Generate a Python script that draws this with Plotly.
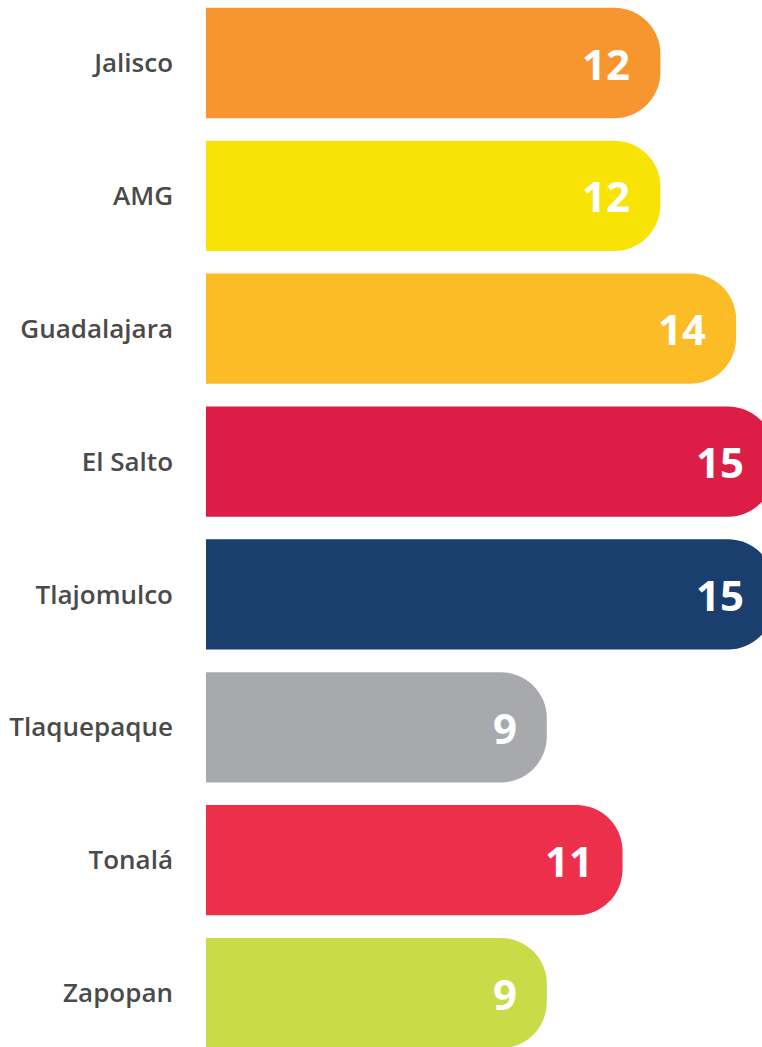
import plotly.graph_objects as go

categories = ["Jalisco", "AMG", "Guadalajara", "El Salto", "Tlajomulco",
              "Tlaquepaque", "Tonalá", "Zapopan"]
values = [12, 12, 14, 15, 15, 9, 11, 9]
colors = ["#F7962F", "#F7E406", "#FBBC26", "#DC1D45", "#1A3F6F",
          "#A7A9AC", "#EC2F4B", "#C9DB47"]

fig = go.Figure()
fig.add_trace(go.Bar(
    x=values, y=categories, orientation="h",
    marker=dict(color=colors, cornerradius=46, line=dict(width=0)),
    width=0.83, hoverinfo="skip",
))

for cat, v in zip(categories, values):
    fig.add_annotation(
        x=v, y=cat, xref="x", yref="y", text=str(v), showarrow=False,
        xanchor="right", yanchor="middle", xshift=-28,
        font=dict(family="Open Sans", size=42, color="white", weight="bold"),
    )

# The reference is a crop: the two longest bars run past the right edge.
fig.update_layout(
    width=774, height=1047,
    margin=dict(l=206, r=0, t=0, b=0),
    paper_bgcolor="white", plot_bgcolor="white",
    showlegend=False,
    xaxis=dict(range=[0, 15], visible=False, fixedrange=True),
    yaxis=dict(
        type="category", categoryorder="array", categoryarray=categories,
        range=[7.4063, -0.4742], showgrid=False, zeroline=False, showline=False,
        ticks="", ticklabelstandoff=32, fixedrange=True,
        tickfont=dict(family="Open Sans", size=26, color="#4a4a4a", weight=600),
    ),
)

fig.write_html(
    "out.html",
    config={"displayModeBar": False},
    post_script="document.body.style.margin='0';document.body.style.overflow='hidden';",
)
